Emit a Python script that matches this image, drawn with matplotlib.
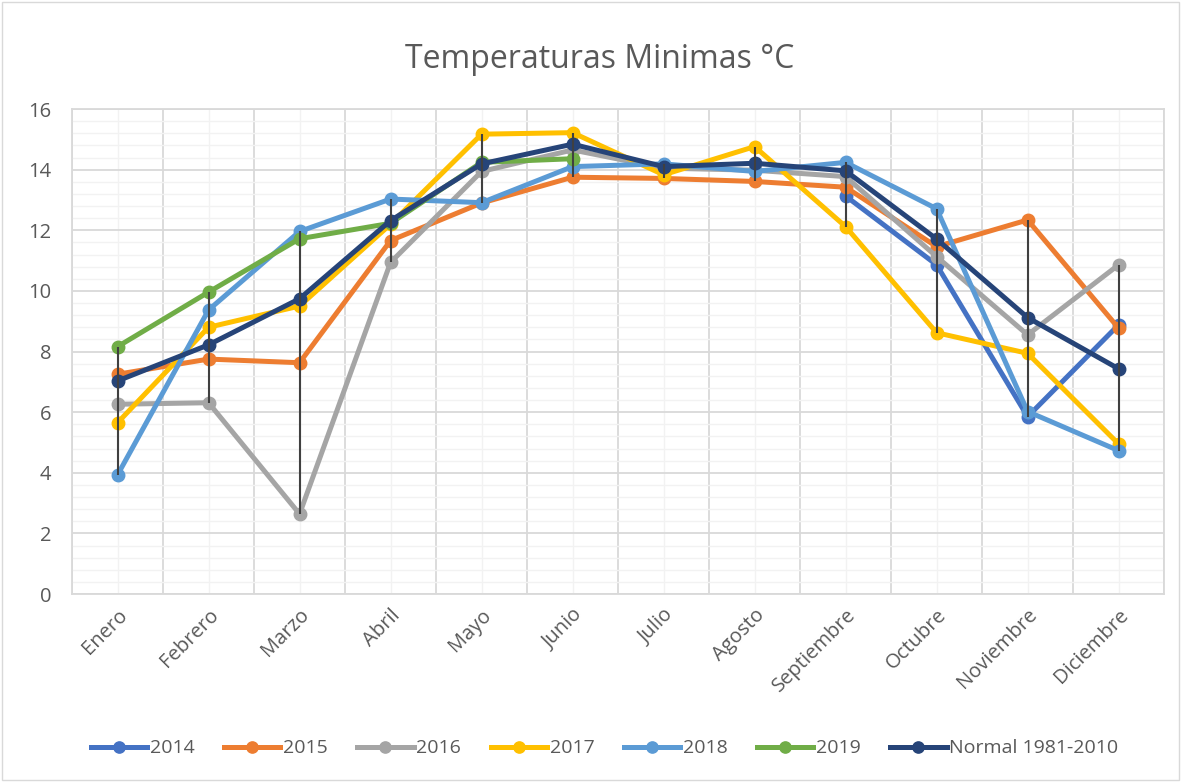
import numpy as np
import matplotlib.pyplot as plt
from matplotlib.patches import Rectangle
from matplotlib.ticker import MultipleLocator

nan = np.nan

meses = ['Enero', 'Febrero', 'Marzo', 'Abril', 'Mayo', 'Junio', 'Julio',
         'Agosto', 'Septiembre', 'Octubre', 'Noviembre', 'Diciembre']

t2014 = [nan, nan, nan, nan, nan, nan, nan, nan, 13.13, 10.86, 5.85, 8.88]
t2015 = [7.25, 7.75, 7.63, 11.66, 12.9, 13.75, 13.71, 13.61, 13.42, 11.46, 12.34, 8.77]
t2016 = [6.26, 6.31, 2.64, 10.94, 13.94, 14.65, 14.05, 13.98, 13.77, 11.13, 8.55, 10.86]
t2017 = [5.65, 8.80, 9.50, 12.2, 15.17, 15.22, 13.83, 14.76, 12.12, 8.62, 7.94, 4.95]
t2018 = [3.93, 9.37, 11.96, 13.03, 12.91, 14.10, 14.19, 13.94, 14.24, 12.71, 6.02, 4.73]
t2019 = [8.16, 9.96, 11.72, 12.23, 14.24, 14.36, nan, nan, nan, nan, nan, nan]
normal = [7.03, 8.22, 9.74, 12.32, 14.19, 14.84, 14.10, 14.21, 13.96, 11.71, 9.12, 7.43]

series = [
    ('2014', t2014, '#4472C4'),
    ('2015', t2015, '#ED7D31'),
    ('2016', t2016, '#A5A5A5'),
    ('2017', t2017, '#FFC000'),
    ('2018', t2018, '#5B9BD5'),
    ('2019', t2019, '#70AD47'),
    ('Normal 1981-2010', normal, '#264478'),
]

plt.rcParams['font.family'] = ['Open Sans', 'DejaVu Sans']
txt = '#595959'

fig = plt.figure(figsize=(11.81, 7.82), dpi=100)
ax = fig.add_axes([0.061, 0.2404, 0.9247, 0.6202])

x = np.arange(len(meses))
for name, vals, col in series:
    ax.plot(x, vals, color=col, lw=3.6, marker='o', ms=9,
            label=name, zorder=3)

# lineas max-min
data = np.array([s[1] for s in series], dtype=float)
ax.vlines(x, np.nanmin(data, axis=0), np.nanmax(data, axis=0),
          color='#404040', lw=1.5, zorder=5)

ax.set_xlim(-0.5, len(meses) - 0.5)
ax.set_ylim(0, 16)
ax.yaxis.set_major_locator(MultipleLocator(2))
ax.yaxis.set_minor_locator(MultipleLocator(0.4))
ax.set_xticks(x)
ax.set_xticks(np.arange(-0.5, len(meses)), minor=True)
ax.set_xticklabels(meses, rotation=45, ha='right', rotation_mode='anchor')

ax.grid(which='major', axis='y', color='#d9d9d9', lw=1.3, zorder=0)
ax.grid(which='minor', axis='y', color='#f2f2f2', lw=1.0, zorder=0)
ax.grid(which='minor', axis='x', color='#d9d9d9', lw=1.3, zorder=0)
ax.grid(which='major', axis='x', color='#f2f2f2', lw=1.0, zorder=0)
ax.set_axisbelow(True)

ax.tick_params(which='both', length=0, colors=txt, labelsize=14.5)
ax.tick_params(axis='x', pad=8)
ax.tick_params(axis='y', pad=15)
for sp in ax.spines.values():
    sp.set_color('#d9d9d9')
    sp.set_linewidth(1.3)

fig.suptitle('Temperaturas Minimas °C', color=txt, fontsize=23,
             x=0.508, y=0.945)

fig.legend(loc='center', bbox_to_anchor=(0.512, 0.043), ncol=7,
           frameon=False, labelcolor=txt, handlelength=2.9,
           columnspacing=1.5, handletextpad=0.15, markerscale=0.9,
           fontsize=14)

fig.patches.append(Rectangle((0.002, 0.002), 0.996, 0.996,
                             transform=fig.transFigure, fill=False,
                             edgecolor='#d9d9d9', lw=1))

fig.savefig('out.png', dpi=100)
